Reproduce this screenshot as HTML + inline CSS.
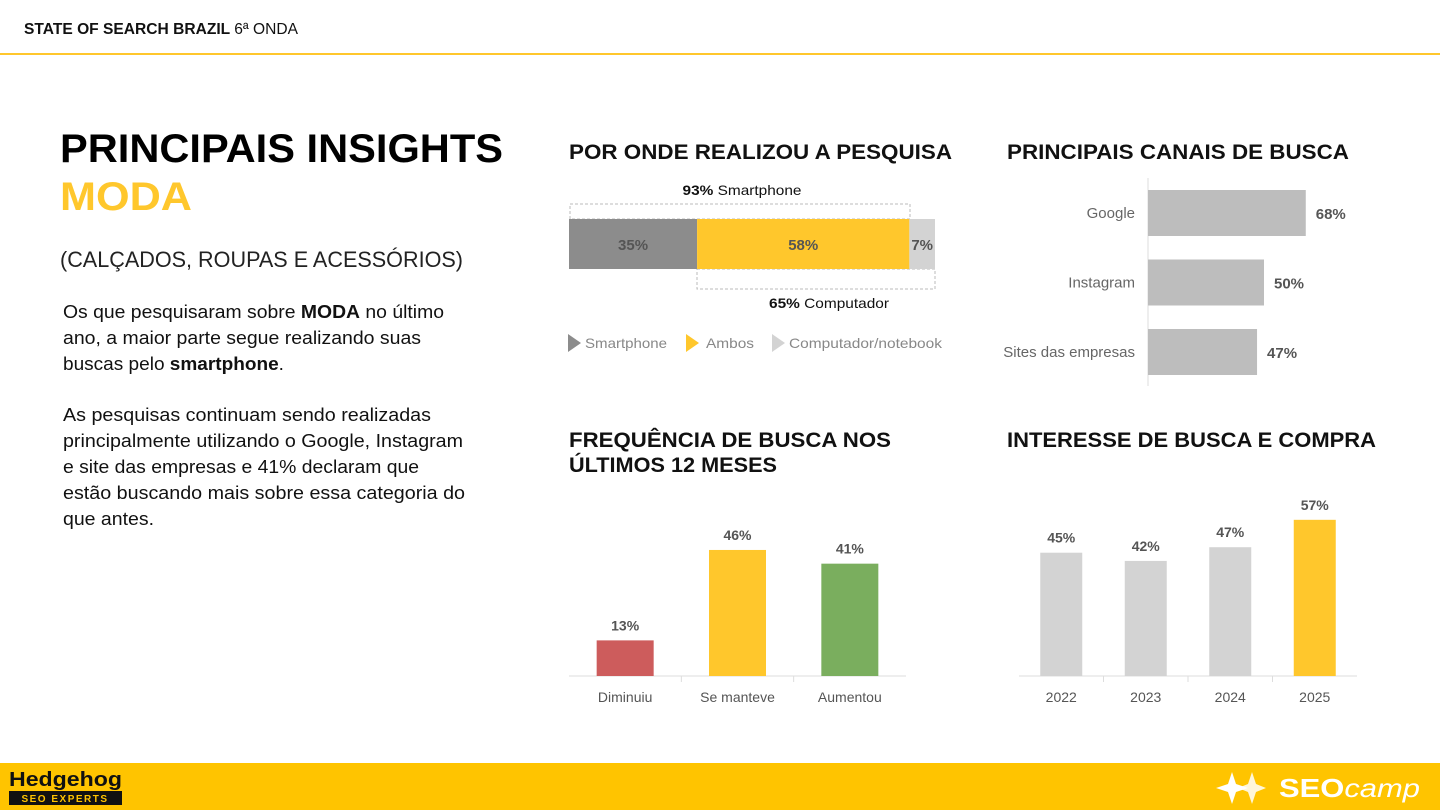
<!DOCTYPE html>
<html><head><meta charset="utf-8"><style>
html,body{margin:0;padding:0;background:#fff;width:1440px;height:810px;overflow:hidden;font-family:"Liberation Sans",sans-serif}
svg text{font-family:"Liberation Sans",sans-serif}
</style></head><body>
<svg id="s" width="1440" height="810" viewBox="0 0 1440 810" xmlns="http://www.w3.org/2000/svg">
<text x="24" y="34" font-size="16" font-weight="bold" fill="#111" textLength="274" lengthAdjust="spacingAndGlyphs">STATE OF SEARCH BRAZIL <tspan font-weight="normal">6ª ONDA</tspan></text>
<rect x="0" y="53" width="1440" height="2" fill="#FFC72C"/>
<text x="60" y="162" font-size="40" font-weight="bold" fill="#000" textLength="443" lengthAdjust="spacingAndGlyphs">PRINCIPAIS INSIGHTS</text>
<text x="60" y="210" font-size="40" font-weight="bold" fill="#FFC72C" textLength="132" lengthAdjust="spacingAndGlyphs">MODA</text>
<text x="60" y="267" font-size="22" fill="#222" textLength="403" lengthAdjust="spacingAndGlyphs">(CALÇADOS, ROUPAS E ACESSÓRIOS)</text>
<g font-size="18" fill="#111">
<text x="63" y="318" textLength="381" lengthAdjust="spacingAndGlyphs">Os que pesquisaram sobre <tspan font-weight="bold">MODA</tspan> no último</text>
<text x="63" y="344" textLength="358" lengthAdjust="spacingAndGlyphs">ano, a maior parte segue realizando suas</text>
<text x="63" y="370" textLength="221" lengthAdjust="spacingAndGlyphs">buscas pelo <tspan font-weight="bold">smartphone</tspan>.</text>
<text x="63" y="421" textLength="368" lengthAdjust="spacingAndGlyphs">As pesquisas continuam sendo realizadas</text>
<text x="63" y="447" textLength="400" lengthAdjust="spacingAndGlyphs">principalmente utilizando o Google, Instagram</text>
<text x="63" y="473" textLength="356" lengthAdjust="spacingAndGlyphs">e site das empresas e 41% declaram que</text>
<text x="63" y="499" textLength="402" lengthAdjust="spacingAndGlyphs">estão buscando mais sobre essa categoria do</text>
<text x="63" y="525" textLength="91" lengthAdjust="spacingAndGlyphs">que antes.</text>
</g>
<g font-size="21" font-weight="bold" fill="#111">
<text x="569" y="159" textLength="383" lengthAdjust="spacingAndGlyphs">POR ONDE REALIZOU A PESQUISA</text>
<text x="1007" y="159" textLength="342" lengthAdjust="spacingAndGlyphs">PRINCIPAIS CANAIS DE BUSCA</text>
<text x="569" y="447" textLength="322" lengthAdjust="spacingAndGlyphs">FREQUÊNCIA DE BUSCA NOS</text>
<text x="569" y="472" textLength="208" lengthAdjust="spacingAndGlyphs">ÚLTIMOS 12 MESES</text>
<text x="1007" y="447" textLength="369" lengthAdjust="spacingAndGlyphs">INTERESSE DE BUSCA E COMPRA</text>
</g>
<rect x="570" y="204" width="340" height="15" fill="none" stroke="#bbb" stroke-dasharray="3,2"/>
<rect x="697" y="269" width="238" height="20" fill="none" stroke="#bbb" stroke-dasharray="3,2"/>
<text x="742" y="195" font-size="14" text-anchor="middle" fill="#111" textLength="119" lengthAdjust="spacingAndGlyphs"><tspan font-weight="bold">93%</tspan> Smartphone</text>
<text x="829" y="308" font-size="14" text-anchor="middle" fill="#111" textLength="120" lengthAdjust="spacingAndGlyphs"><tspan font-weight="bold">65%</tspan> Computador</text>
<g id="dev"></g>
<g font-size="14" fill="#888">
<path d="M568,334 L581,343 L568,352 Z" fill="#8C8C8C"/><text x="585" y="348" textLength="82" lengthAdjust="spacingAndGlyphs">Smartphone</text>
<path d="M686,334 L699,343 L686,352 Z" fill="#FFC72C"/><text x="706" y="348" textLength="48" lengthAdjust="spacingAndGlyphs">Ambos</text>
<path d="M772,334 L785,343 L772,352 Z" fill="#D3D3D3"/><text x="789" y="348" textLength="153" lengthAdjust="spacingAndGlyphs">Computador/notebook</text>
</g>
<g id="ch"></g><g id="fr"></g><g id="in"></g>
<rect x="0" y="763" width="1440" height="47" fill="#FFC400"/>
<text x="9" y="786" font-size="20" font-weight="bold" fill="#111" textLength="113" lengthAdjust="spacingAndGlyphs">Hedgehog</text>
<rect x="9" y="791" width="113" height="14" fill="#111"/>
<text x="65" y="802" font-size="10" font-weight="bold" fill="#FFC400" text-anchor="middle" letter-spacing="1.5">SEO EXPERTS</text>
<g fill="#fff">
<path d="M1232,772 L1236,784 L1248,788 L1236,792 L1232,804 L1228,792 L1216,788 L1228,784 Z"/>
<path d="M1252,772 L1256,784 L1266,788 L1256,792 L1252,804 L1248,792 L1238,788 L1248,784 Z" opacity="0.85"/>
<text x="1279" y="797" font-size="26" font-weight="bold" textLength="141" lengthAdjust="spacingAndGlyphs">SEO<tspan font-weight="normal" font-style="italic">camp</tspan></text>
</g>
</svg>
<script>
const devLabels=["35%","58%","7%"];
const devValues=[35,58,7];
const chCats=["Google","Instagram","Sites das empresas"];
const chValues=[68,50,47];
const frCats=["Diminuiu","Se manteve","Aumentou"];
const frValues=[13,46,41];
const inCats=["2022","2023","2024","2025"];
const inValues=[45,42,47,57];
const NS="http://www.w3.org/2000/svg";
function mk(p,t,a){const e=document.createElementNS(NS,t);for(const k in a)e.setAttribute(k,a[k]);p.appendChild(e);return e;}
const dev=document.getElementById('dev');
const dx=v=>569+v*3.66;
const devColors=["#8C8C8C","#FFC72C","#D3D3D3"];
let acc=0;
devValues.forEach((v,i)=>{
 const r=mk(dev,'rect',{x:dx(acc),y:219,width:dx(acc+v)-dx(acc),height:50,fill:devColors[i]});
 
 
 const t=mk(dev,'text',{x:(dx(acc)+dx(acc+v))/2,y:250,'text-anchor':'middle','font-size':15,'font-weight':'bold',fill:'#555'});
 t.textContent=devLabels[i];
 
 
 acc+=v;
});
const ch=document.getElementById('ch');
const cx=v=>1148+v*2.32;
const ax=mk(ch,'line',{x1:1148,y1:178,x2:1148,y2:386,stroke:'#ddd'});


chCats.forEach((c,i)=>{
 const cy=213+i*69.5;
 const r=mk(ch,'rect',{x:1148,y:cy-23,width:cx(chValues[i])-1148,height:46,fill:'#BDBDBD'});
 
 
 const l=mk(ch,'text',{x:1135,y:cy+5,'text-anchor':'end','font-size':15,fill:'#666'});l.textContent=c;
 
 
 const v=mk(ch,'text',{x:cx(chValues[i])+10,y:cy+6,'font-size':15,'font-weight':'bold',fill:'#555'});v.textContent=chValues[i]+'%';
 
 
});
function vbars(gid,cats,vals,x0,x1,bw,colors,name){
 const g=document.getElementById(gid);const base=676,k=2.74;const step=(x1-x0)/cats.length;
 const a=mk(g,'line',{x1:x0,y1:base,x2:x1,y2:base,stroke:'#ddd'});
 
 
 for(let i=1;i<cats.length;i++){mk(g,'line',{x1:x0+i*step,y1:base,x2:x0+i*step,y2:base+6,stroke:'#ddd'});}
 cats.forEach((c,i)=>{
  const cx=x0+step*(i+0.5),h=vals[i]*k;
  const r=mk(g,'rect',{x:cx-bw/2,y:base-h,width:bw,height:h,fill:colors[i]});
  
  
  const v=mk(g,'text',{x:cx,y:base-h-10,'text-anchor':'middle','font-size':14,'font-weight':'bold',fill:'#555'});v.textContent=vals[i]+'%';
  
  
  const l=mk(g,'text',{x:cx,y:702,'text-anchor':'middle','font-size':14,fill:'#555'});l.textContent=c;
  
  
 });
}
vbars('fr',frCats,frValues,569,906,57,["#CD5C5C","#FFC72C","#7AAE5E"],'frequency');
vbars('in',inCats,inValues,1019,1357,42,["#D3D3D3","#D3D3D3","#D3D3D3","#FFC72C"],'interest');
</script>
</body></html>
